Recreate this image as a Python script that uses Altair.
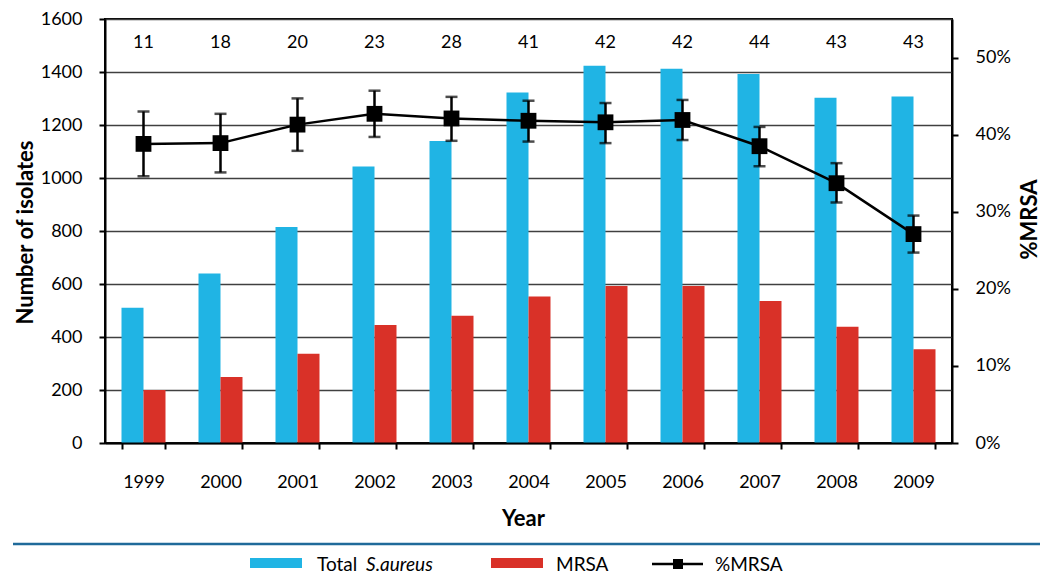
import altair as alt
import pandas as pd

# Surveillance of S. aureus isolates, 1999-2009
years = [str(y) for y in range(1999, 2010)]
total_isolates = [510, 640, 815, 1043, 1140, 1323, 1424, 1412, 1392, 1303, 1308]
mrsa_isolates = [200, 249, 337, 445, 480, 553, 592, 592, 536, 439, 354]
pct_mrsa = [38.8, 38.9, 41.3, 42.7, 42.1, 41.8, 41.6, 41.9, 38.5, 33.7, 27.1]
pct_low = [34.6, 35.1, 37.9, 39.7, 39.2, 39.1, 38.9, 39.3, 35.9, 31.2, 24.7]
pct_high = [43.0, 42.7, 44.7, 45.7, 44.9, 44.4, 44.1, 44.5, 41.0, 36.3, 29.5]
n_sites = [11, 18, 20, 23, 28, 41, 42, 42, 44, 43, 43]

series_names = ["Total S.aureus", "MRSA"]
series_colors = ["#20B4E4", "#D93128"]
left_ticks = [0, 200, 400, 600, 800, 1000, 1200, 1400, 1600]
right_ticks = [0, 10, 20, 30, 40, 50]
legend_texts = ["Total", "S.aureus", "MRSA", "%MRSA"]

FONT = "Lato"

bars_df = pd.DataFrame({
    "year": years * 2,
    "series": [series_names[0]] * len(years) + [series_names[1]] * len(years),
    "count": total_isolates + mrsa_isolates,
})
pct_df = pd.DataFrame({"year": years, "pct": pct_mrsa, "low": pct_low, "high": pct_high})
sites_df = pd.DataFrame({"year": years, "n": n_sites})

x_axis = alt.Axis(
    title="Year", labelAngle=0, tickBand="extent", labelPadding=24,
    titleX=418, titleY=82, titleAlign="center", titleBaseline="alphabetic",
    zindex=1,
)
x_enc = alt.X(
    "year:N",
    scale=alt.Scale(paddingInner=0.4286, paddingOuter=0.2143),
    axis=x_axis,
)

left_axis = alt.Axis(
    title="Number of isolates", values=left_ticks, format="d", grid=True,
    gridColor="#404040", gridWidth=1.5, labelPadding=17,
    titleAngle=270, titleX=-73, titleY=213, titleAlign="center",
    titleBaseline="alphabetic",
)
bars = alt.Chart(bars_df).mark_bar().encode(
    x=x_enc,
    xOffset=alt.XOffset("series:N", sort=series_names,
                        scale=alt.Scale(paddingInner=0, paddingOuter=0)),
    y=alt.Y("count:Q", scale=alt.Scale(domain=[0, 1600], nice=False), axis=left_axis),
    color=alt.Color("series:N", scale=alt.Scale(domain=series_names, range=series_colors),
                    legend=None),
)

sites = alt.Chart(sites_df).mark_text(
    font=FONT, fontSize=18, color="black", baseline="middle"
).encode(x=x_enc, y=alt.value(24), text="n:Q")

right_axis = alt.Axis(
    title="%MRSA", orient="right", values=right_ticks, grid=False,
    labelPadding=17, labelExpr="datum.value + '%'",
    titleAngle=270, titleX=84, titleY=200, titleAlign="center",
    titleBaseline="alphabetic",
)
pct_scale = alt.Scale(domain=[0, 55], nice=False)

pct_base = alt.Chart(pct_df)
err_rule = pct_base.mark_rule(color="black", strokeWidth=2.5).encode(
    x=x_enc,
    y=alt.Y("low:Q", scale=pct_scale, axis=right_axis),
    y2="high:Q",
)
cap_low = pct_base.mark_tick(color="black", thickness=2.5, size=12).encode(
    x=x_enc, y=alt.Y("low:Q", scale=pct_scale, axis=right_axis)
)
cap_high = pct_base.mark_tick(color="black", thickness=2.5, size=12).encode(
    x=x_enc, y=alt.Y("high:Q", scale=pct_scale, axis=right_axis)
)
pct_line = pct_base.mark_line(color="black", strokeWidth=2.5).encode(
    x=x_enc, y=alt.Y("pct:Q", scale=pct_scale, axis=right_axis)
)
pct_pts = pct_base.mark_point(
    shape="square", filled=True, size=250, color="black", opacity=1
).encode(x=x_enc, y=alt.Y("pct:Q", scale=pct_scale, axis=right_axis))

pct_layer = alt.layer(err_rule, cap_low, cap_high, pct_line, pct_pts)

# Legend drawn underneath the plot, below a separator rule
one = pd.DataFrame({"k": [0]})
sep = alt.Chart(one).mark_rule(color="#1F6A9A", strokeWidth=2.5).encode(
    x=alt.value(-92), x2=alt.value(935), y=alt.value(525)
)
key_total = alt.Chart(one).mark_rect(color=series_colors[0]).encode(
    x=alt.value(145), x2=alt.value(197), y=alt.value(539), y2=alt.value(549)
)
key_mrsa = alt.Chart(one).mark_rect(color=series_colors[1]).encode(
    x=alt.value(386), x2=alt.value(438), y=alt.value(539), y2=alt.value(549)
)
key_line = alt.Chart(one).mark_rule(color="black", strokeWidth=2.5).encode(
    x=alt.value(547), x2=alt.value(598), y=alt.value(545)
)
key_pt = alt.Chart(one).mark_point(
    shape="square", filled=True, size=100, color="black", opacity=1
).encode(x=alt.value(573), y=alt.value(545))


def legend_text(label, xpos, italic=False):
    return alt.Chart(pd.DataFrame({"t": [label]})).mark_text(
        font=FONT, fontSize=19, color="black", align="left", baseline="alphabetic",
        fontStyle="italic" if italic else "normal",
    ).encode(x=alt.value(xpos), y=alt.value(552), text="t:N")


legend = alt.layer(
    sep, key_total, key_mrsa, key_line, key_pt,
    legend_text(legend_texts[0], 212),
    legend_text(legend_texts[1], 261, italic=True),
    legend_text(legend_texts[2], 451),
    legend_text(legend_texts[3], 610),
)

chart = alt.layer(bars, sites, pct_layer, legend).resolve_scale(
    y="independent"
).properties(
    width=847, height=424,
    background="white",
    autosize=alt.AutoSizeParams(type="none"),
    padding={"left": 105, "top": 19, "right": 88, "bottom": 131},
).configure_view(
    stroke="black", strokeWidth=2
).configure_axis(
    labelFont=FONT, labelFontSize=18, labelColor="black",
    titleFont=FONT, titleFontSize=22, titleFontWeight="bold", titleColor="black",
    tickColor="black", tickSize=6, tickWidth=2,
    domainColor="black", domainWidth=2,
)

chart.save("out.html", embed_options={"renderer": "svg", "actions": False})
